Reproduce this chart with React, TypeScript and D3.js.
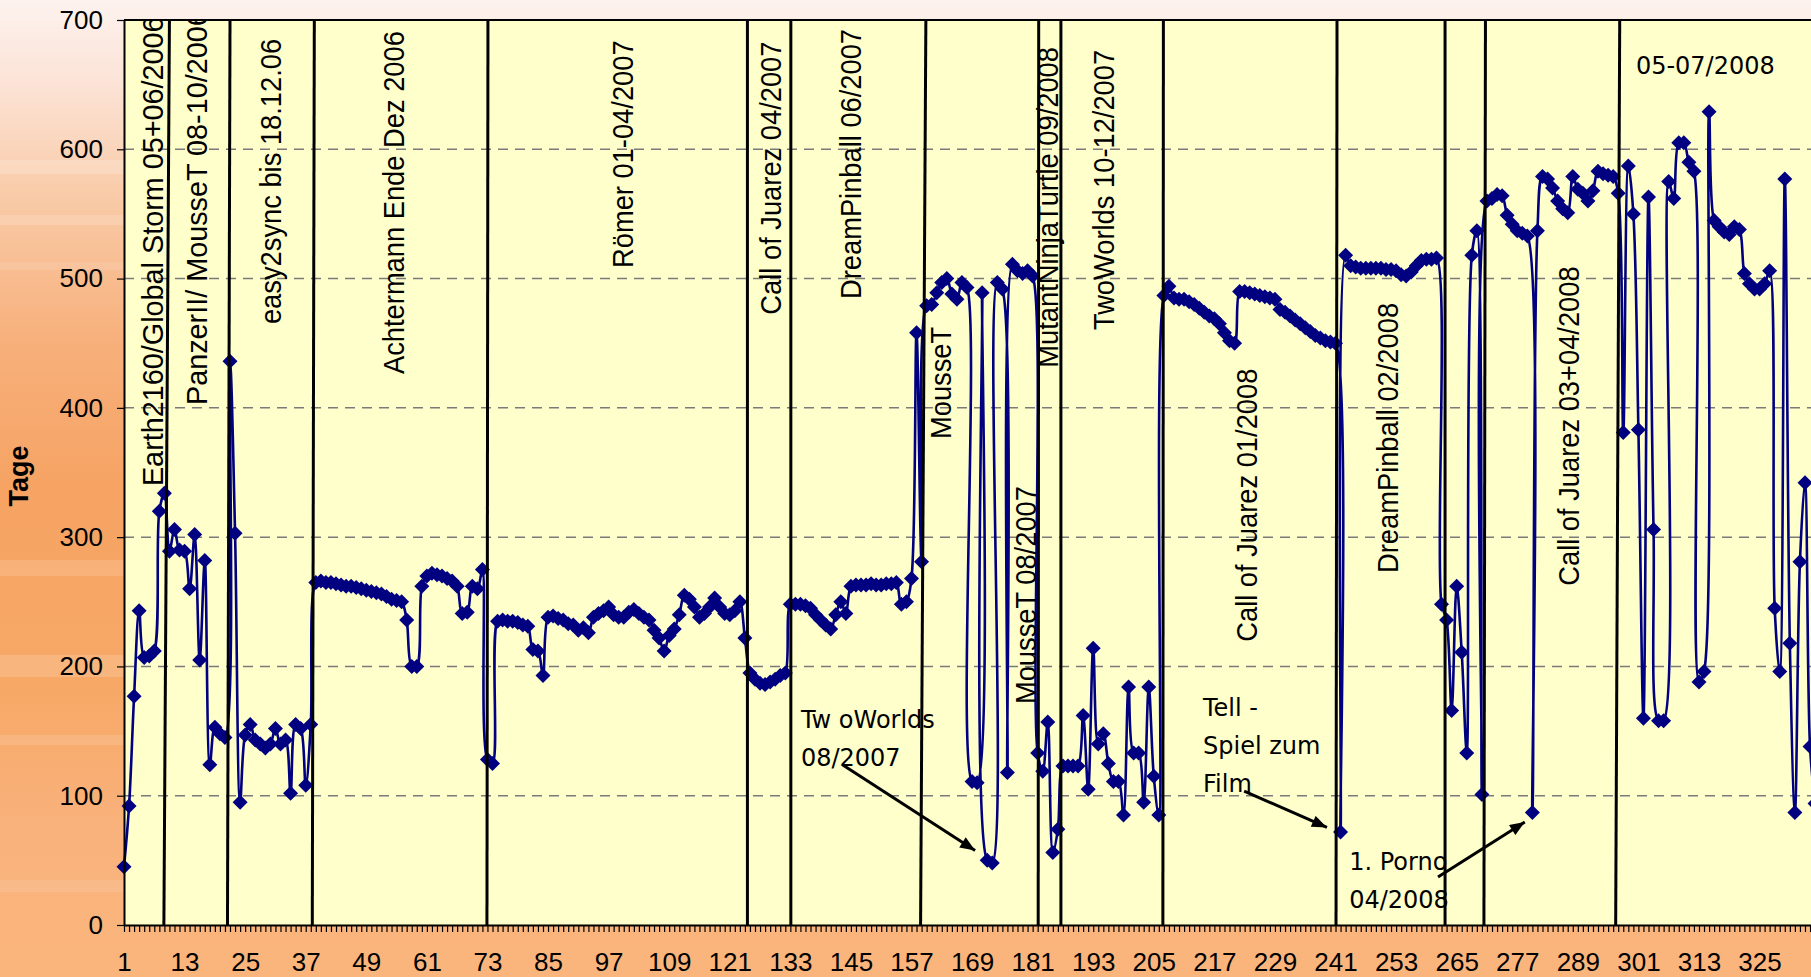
import React, { useEffect, useRef } from 'react';
import * as d3 from 'd3';

// Tage per Kategorie 1..336
const tage: number[] = [
  45, 92, 177, 243, 207, 208, 212, 320, 334, 289, 306, 290,
  289, 260, 302, 205, 282, 124, 153, 148, 145, 436, 303, 95,
  147, 155, 143, 140, 137, 140, 152, 140, 143, 102, 155, 152,
  108, 155, 265, 266, 265, 265, 264, 263, 262, 262, 261, 260,
  259, 258, 257, 256, 254, 252, 251, 250, 236, 200, 200, 262,
  270, 272, 271, 270, 268, 266, 262, 241, 242, 262, 260, 275,
  128, 125, 235, 236, 235, 235, 234, 232, 231, 213, 212, 193,
  238, 239, 237, 236, 233, 232, 228, 230, 226, 238, 241, 243,
  246, 240, 238, 238, 242, 244, 241, 238, 236, 228, 222, 212,
  224, 229, 240, 255, 252, 246, 238, 241, 246, 253, 246, 241,
  240, 243, 250, 222, 195, 190, 187, 186, 188, 190, 193, 195,
  248, 248, 248, 247, 245, 240, 236, 232, 229, 240, 250, 241,
  262, 263, 263, 263, 264, 263, 263, 264, 264, 265, 248, 250,
  268, 458, 281, 479, 480, 489, 497, 500, 488, 484, 497, 493,
  111, 110, 489, 50, 48, 497, 492, 118, 511, 506, 504, 506,
  502, 133, 119, 157, 56, 74, 123, 123, 123, 123, 162, 105,
  214, 140, 148, 125, 111, 111, 85, 184, 133, 133, 95, 184,
  115, 85, 487, 494, 485, 484, 484, 482, 480, 477, 474, 471,
  469, 465, 458, 452, 450, 490, 490, 489, 488, 487, 486, 485,
  484, 476, 474, 471, 468, 465, 462, 459, 456, 454, 452, 451,
  450, 72, 518, 510, 509, 508, 508, 508, 508, 508, 507, 507,
  506, 503, 502, 505, 510, 514, 515, 515, 516, 248, 236, 166,
  262, 211, 133, 518, 537, 101, 560, 562, 565, 564, 549, 542,
  537, 535, 533, 87, 537, 579, 577, 570, 560, 554, 551, 579,
  569, 566, 560, 568, 583, 581, 580, 579, 566, 381, 587, 550,
  383, 160, 563, 306, 158, 158, 575, 562, 605, 605, 590, 583,
  188, 196, 629, 545, 540, 536, 534, 540, 538, 504, 496, 492,
  492, 496, 506, 245, 196, 577, 218, 87, 281, 342, 138, 94,
];

const yTicks = [0, 100, 200, 300, 400, 500, 600, 700];
const xLabelStep = 12;

// event markers in category units: [top end, bottom end]
const eventLines: [number, number][] = [
  [10.0, 8.9], [22.0, 21.5], [38.7, 38.3], [73.1, 72.9], [124.5, 124.5],
  [133.1, 133.1], [159.85, 158.8], [182.2, 182.1], [186.6, 186.6], [206.9, 206.8],
  [241.3, 241.1], [262.7, 262.7], [270.7, 270.4], [297.3, 296.5],
];

// rotated labels: anchored at category `at`, starting at value `from`
const eventLabels = [
  { text: 'Earth2160/Global Storm 05+06/2006', at: 8.73, from: 339.5 },
  { text: 'PanzerII/ MousseT 08-10/2006', at: 17.44, from: 402.2 },
  { text: 'easy2sync bis 18.12.06', at: 32.1, from: 464.8 },
  { text: 'Achtermann Ende Dez 2006', at: 56.47, from: 426.2 },
  { text: 'Römer 01-04/2007', at: 101.83, from: 508.2 },
  { text: 'Call of Juarez 04/2007', at: 131.17, from: 472.1 },
  { text: 'DreamPinball 06/2007', at: 147.02, from: 484.2 },
  { text: 'MousseT', at: 164.85, from: 375.9 },
  { text: 'MousseT 08/2007', at: 181.67, from: 170.9 },
  { text: 'MutantNinjaTurtle 09/2008', at: 186.02, from: 431.1 },
  { text: 'TwoWorlds 10-12/2007', at: 197.12, from: 460.2 },
  { text: 'Call of Juarez 01/2008', at: 225.45, from: 219.1 },
  { text: 'DreamPinball 02/2008', at: 253.39, from: 272.3 },
  { text: 'Call of Juarez 03+04/2008', at: 289.27, from: 262.4 },
];
// the first two text boxes use a slightly wider setting
const wideLabels = new Set([0, 1]);

const notes = [
  { lines: ['Tw oWorlds', '08/2007'], at: 135.1, from: 152.4 },
  { lines: ['Tell -', 'Spiel zum', 'Film'], at: 214.75, from: 161.3 },
  { lines: ['1. Porno', '04/2008'], at: 243.7, from: 42.5 },
  { lines: ['05-07/2008'], at: 300.5, from: 658.2 },
];

const arrows = [
  { from: [143.4, 123.8], to: [169.6, 57.6] },
  { from: [222.9, 103.6], to: [239.3, 75.5] },
  { from: [261.3, 37.1], to: [278.5, 79.7] },
];

const W = 1811;
const H = 977;
const left = 124;
const top = 20;
const bottom = 925;
const step = 5.048;

const App = () => {
  const svgRef = useRef<SVGSVGElement>(null);

  useEffect(() => {
    const svg = d3.select(svgRef.current);
    svg.selectAll('*').remove();

    const n = tage.length;
    const x = d3.scaleLinear().domain([1, n]).range([left, left + (n - 1) * step]);
    const y = d3.scaleLinear().domain([0, 700]).range([bottom, top]);

    const defs = svg.append('defs');
    const grad = defs.append('linearGradient')
      .attr('id', 'bg').attr('x1', 0).attr('y1', 0).attr('x2', 0).attr('y2', 1);
    [
      [0, '#fdf2ee'], [0.08, '#fce4d8'], [0.2, '#f9cba8'], [0.35, '#f7b07b'],
      [0.5, '#f6a363'], [0.7, '#f7a866'], [0.85, '#f9b27c'], [1, '#fab57c'],
    ].forEach(([o, c]) => grad.append('stop').attr('offset', o as number).attr('stop-color', c as string));

    defs.append('clipPath').attr('id', 'plotclip')
      .append('rect').attr('x', left).attr('y', top).attr('width', W - left).attr('height', bottom - top);

    defs.append('marker')
      .attr('id', 'head')
      .attr('viewBox', '0 0 10 8')
      .attr('refX', 10).attr('refY', 4)
      .attr('markerWidth', 16).attr('markerHeight', 12)
      .attr('markerUnits', 'userSpaceOnUse')
      .attr('orient', 'auto')
      .append('path').attr('d', 'M0,0L10,4L0,8Z').attr('fill', '#000');

    svg.append('rect').attr('width', W).attr('height', H).attr('fill', 'url(#bg)');

    // light streaks of the background texture
    [[160, 14, 0.18], [215, 10, 0.15], [262, 8, 0.1], [560, 16, 0.14], [655, 22, 0.16], [735, 10, 0.12], [880, 12, 0.1]]
      .forEach(([sy, sh, op]) => {
        svg.append('rect').attr('x', 0).attr('y', sy).attr('width', W).attr('height', sh)
          .attr('fill', '#fff').attr('opacity', op);
      });

    // plot area
    svg.append('rect')
      .attr('x', left).attr('y', top)
      .attr('width', W - left + 10).attr('height', bottom - top)
      .attr('fill', '#ffffcc');

    svg.append('g')
      .selectAll('line')
      .data(yTicks.filter(v => v > 0 && v < 700))
      .enter()
      .append('line')
      .attr('x1', left).attr('x2', W)
      .attr('y1', d => y(d)).attr('y2', d => y(d))
      .attr('stroke', '#7a7a7a')
      .attr('stroke-width', 1.5)
      .attr('stroke-dasharray', '10,7');

    svg.append('line')
      .attr('x1', left).attr('x2', W).attr('y1', top).attr('y2', top)
      .attr('stroke', '#000').attr('stroke-width', 2);

    // series
    const line = d3.line<number>()
      .x((d, i) => x(i + 1))
      .y(d => y(d))
      .curve(d3.curveCatmullRom.alpha(0.5));

    svg.append('path')
      .datum(tage)
      .attr('d', line)
      .attr('fill', 'none')
      .attr('stroke', '#000080')
      .attr('stroke-width', 2.6);

    const r = 7.5;
    svg.append('g')
      .selectAll('path')
      .data(tage)
      .enter()
      .append('path')
      .attr('d', `M0,${-r}L${r},0L0,${r}L${-r},0Z`)
      .attr('transform', (d, i) => `translate(${x(i + 1)},${y(d)})`)
      .attr('fill', '#000080');

    // axes
    const yAxis = svg.append('g')
      .attr('transform', `translate(${left},0)`)
      .call(d3.axisLeft(y).tickValues(yTicks).tickSize(7).tickSizeOuter(0).tickPadding(14));
    const xAxis = svg.append('g')
      .attr('transform', `translate(0,${bottom})`)
      .call(
        d3.axisBottom(x)
          .tickValues(d3.range(1, n + 1))
          .tickSize(7)
          .tickSizeOuter(0)
          .tickPadding(21)
          .tickFormat(d => ((+d - 1) % xLabelStep === 0 ? String(d) : ''))
      );
    [yAxis, xAxis].forEach(g => {
      g.select('.domain').attr('stroke', '#000').attr('stroke-width', 2);
      g.selectAll('.tick line').attr('stroke', '#000').attr('stroke-width', 1.2);
      g.selectAll('text')
        .attr('fill', '#000')
        .style('font-family', "'Liberation Sans', Arial, sans-serif")
        .style('font-size', '26px');
    });

    svg.append('text')
      .attr('transform', `translate(28,476) rotate(-90)`)
      .attr('text-anchor', 'middle')
      .style('font-family', "'Liberation Sans', Arial, sans-serif")
      .style('font-size', '27px')
      .style('font-weight', 'bold')
      .text('Tage');

    // event markers
    svg.append('g')
      .selectAll('line')
      .data(eventLines)
      .enter()
      .append('line')
      .attr('x1', d => x(d[0])).attr('y1', y(700))
      .attr('x2', d => x(d[1])).attr('y2', y(0))
      .attr('stroke', '#000')
      .attr('stroke-width', 3);

    svg.append('g')
      .attr('clip-path', 'url(#plotclip)')
      .selectAll('text')
      .data(eventLabels)
      .enter()
      .append('text')
      .attr('transform', (d, i) =>
        `translate(${x(d.at)},${y(d.from)}) rotate(-90) scale(${wideLabels.has(i) ? 0.96 : 0.91},1)`)
      .style('font-family', "'Liberation Sans', Arial, sans-serif")
      .style('font-size', '30px')
      .attr('fill', '#000')
      .text(d => d.text);

    // callouts
    const noteG = svg.append('g')
      .style('font-family', "'DejaVu Sans', Verdana, sans-serif")
      .style('font-size', '24px');
    notes.forEach(nt => {
      const t = noteG.append('text').attr('x', x(nt.at)).attr('y', y(nt.from)).attr('fill', '#000');
      nt.lines.forEach((s, k) => {
        t.append('tspan').attr('x', x(nt.at)).attr('dy', k === 0 ? 0 : 38).text(s);
      });
    });

    svg.append('g')
      .selectAll('line')
      .data(arrows)
      .enter()
      .append('line')
      .attr('x1', d => x(d.from[0])).attr('y1', d => y(d.from[1]))
      .attr('x2', d => x(d.to[0])).attr('y2', d => y(d.to[1]))
      .attr('stroke', '#000')
      .attr('stroke-width', 3)
      .attr('marker-end', 'url(#head)');
  }, []);

  return (
    <svg
      ref={svgRef}
      width={W}
      height={H}
      style={{ position: 'absolute', left: 0, top: 0, display: 'block' }}
    />
  );
};

export default App;
